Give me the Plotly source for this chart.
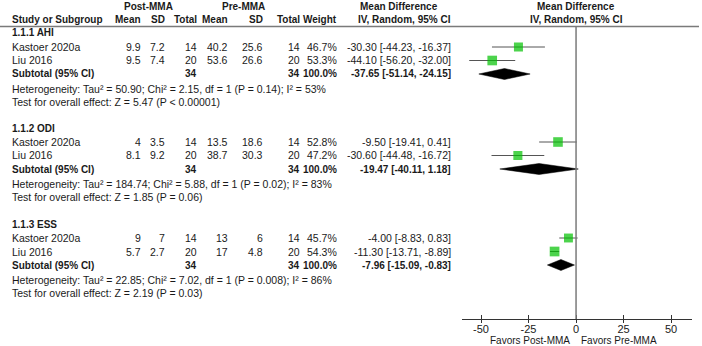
import plotly.graph_objects as go

W, H = 702, 346

# ---------------- data ----------------
subgroups = ["1.1.1 AHI", "1.1.2 ODI", "1.1.3 ESS"]
studies = ["Kastoer 2020a", "Liu 2016"]
post_mean = [[9.9, 9.5], [4, 8.1], [9, 5.7]]
post_sd = [[7.2, 7.4], [3.5, 9.2], [7, 2.7]]
post_n = [[14, 20], [14, 20], [14, 20]]
pre_mean = [[40.2, 53.6], [13.5, 38.7], [13, 17]]
pre_sd = [[25.6, 26.6], [18.6, 30.3], [6, 4.8]]
pre_n = [[14, 20], [14, 20], [14, 20]]
weights = [[46.7, 53.3], [52.8, 47.2], [45.7, 54.3]]
md = [[-30.30, -44.10], [-9.50, -30.60], [-4.00, -11.30]]
md_lo = [[-44.23, -56.20], [-19.41, -44.48], [-8.83, -13.71]]
md_hi = [[-16.37, -32.00], [0.41, -16.72], [0.83, -8.89]]
sub_md = [-37.65, -19.47, -7.96]
sub_lo = [-51.14, -40.11, -15.09]
sub_hi = [-24.15, 1.18, -0.83]
sub_post_n = [34, 34, 34]
sub_pre_n = [34, 34, 34]
heterogeneity = [
    "Heterogeneity: Tau² = 50.90; Chi² = 2.15, df = 1 (P = 0.14); I² = 53%",
    "Heterogeneity: Tau² = 184.74; Chi² = 5.88, df = 1 (P = 0.02); I² = 83%",
    "Heterogeneity: Tau² = 22.85; Chi² = 7.02, df = 1 (P = 0.008); I² = 86%",
]
overall = [
    "Test for overall effect: Z = 5.47 (P < 0.00001)",
    "Test for overall effect: Z = 1.85 (P = 0.06)",
    "Test for overall effect: Z = 2.19 (P = 0.03)",
]
tick_vals = [-50, -25, 0, 25, 50]
tick_text = ["-50", "-25", "0", "25", "50"]

# ---------------- layout helpers ----------------
FONT = "Liberation Sans, Arial, sans-serif"
FS = 10.5
FSB = 10
TXT = "#1a1a1a"
AXIS_BOTTOM = 319
section_top = [33, 128, 224]
row_off = [14, 27.5]
sub_off = 41
het_off = 56
test_off = 69


def px(x):
    return x / W


def py(y):
    return 1 - y / H


ann = []


def text(x, y, s, anchor="left", bold=False, size=None):
    if size is None:
        size = FSB if bold else FS
    if bold:
        s = "<b>" + s + "</b>"
    ann.append(dict(x=px(x), y=py(y), xref="paper", yref="paper", text=s,
                    showarrow=False, xanchor=anchor, yanchor="middle",
                    font=dict(family=FONT, size=size, color=TXT)))


def fmt(v):
    return f"{v:g}"


# column right edges
col_x = [143, 167, 199, 230, 265, 302, 339]
ci_x = 453

# header
text(148, 6, "Post-MMA", "center", True)
text(243.5, 6, "Pre-MMA", "center", True)
text(398.5, 6, "Mean Difference", "center", True)
text(576, 6, "Mean Difference", "center", True)
text(10, 20, "Study or Subgroup", "left", True)
for x, s in zip(col_x, ["Mean", "SD", "Total", "Mean", "SD", "Total", "Weight"]):
    text(x, 20, s, "right", True)
text(453, 20, "IV, Random, 95% CI", "right", True)
text(576, 20, "IV, Random, 95% CI", "center", True)

fig = go.Figure()

ci_x_pts, ci_y_pts = [], []
sq_x, sq_y, sq_s = [], [], []

for g, name in enumerate(subgroups):
    top = section_top[g]
    text(10, top, name, "left", True)
    for i, st in enumerate(studies):
        y = top + row_off[i]
        text(10, y, st)
        vals = [fmt(post_mean[g][i]), fmt(post_sd[g][i]), str(post_n[g][i]),
                fmt(pre_mean[g][i]), fmt(pre_sd[g][i]), str(pre_n[g][i]),
                f"{weights[g][i]:.1f}%"]
        for x, s in zip(col_x, vals):
            text(x, y, s, "right")
        text(ci_x, y, f"{md[g][i]:.2f} [{md_lo[g][i]:.2f}, {md_hi[g][i]:.2f}]", "right")
        ci_x_pts += [md_lo[g][i], md_hi[g][i], None]
        ci_y_pts += [y, y, None]
        sq_x.append(md[g][i])
        sq_y.append(y)
        sq_s.append(1.32 * weights[g][i] ** 0.5)
    ys = top + sub_off
    text(10, ys, "Subtotal (95% CI)", "left", True)
    text(col_x[2], ys, str(sub_post_n[g]), "right", True)
    text(col_x[5], ys, str(sub_pre_n[g]), "right", True)
    text(col_x[6], ys, "100.0%", "right", True)
    text(ci_x, ys, f"{sub_md[g]:.2f} [{sub_lo[g]:.2f}, {sub_hi[g]:.2f}]", "right", True)
    text(10, top + het_off, heterogeneity[g])
    text(10, top + test_off, overall[g])
    # diamond
    hh = 5.5
    fig.add_trace(go.Scatter(
        x=[sub_lo[g], sub_md[g], sub_hi[g], sub_md[g], sub_lo[g]],
        y=[ys, ys - hh, ys, ys + hh, ys],
        mode="lines", fill="toself", fillcolor="black",
        line=dict(color="black", width=0.5), hoverinfo="skip", showlegend=False))

fig.add_trace(go.Scatter(x=ci_x_pts, y=ci_y_pts, mode="lines",
                         line=dict(color="#555555", width=1),
                         hoverinfo="skip", showlegend=False))
fig.add_trace(go.Scatter(x=sq_x, y=sq_y, mode="markers",
                         marker=dict(symbol="square", size=sq_s, color="#00C000",
                                     line=dict(width=0)),
                         showlegend=False))

# favours labels
text(572, 340, "Favors Post-MMA", "right", size=10)
text(579, 340, "Favors Pre-MMA", "left", size=10)

shapes = [
    dict(type="line", xref="paper", yref="paper", x0=0, x1=px(699),
         y0=py(26.5), y1=py(26.5), line=dict(color="#7a7a7a", width=1.5)),
    dict(type="line", xref="x", yref="y", x0=0, x1=0, y0=26.5, y1=AXIS_BOTTOM,
         line=dict(color="#7a7a7a", width=1.5)),
]

x_dom = [px(462), px(692)]
x_rng = [-60, 61]
fig.update_layout(
    width=W, height=H, margin=dict(l=0, r=0, t=0, b=0),
    paper_bgcolor="white", plot_bgcolor="white",
    annotations=ann, shapes=shapes, showlegend=False,
    xaxis=dict(domain=x_dom, range=x_rng, showline=True, linecolor="#333333",
               linewidth=1, tickvals=tick_vals, ticktext=tick_text,
               ticks="inside", ticklen=4, tickcolor="#333333", showgrid=False,
               zeroline=False, tickfont=dict(family=FONT, size=11, color=TXT)),
    xaxis2=dict(domain=x_dom, range=x_rng, overlaying="x", anchor="y",
                side="bottom", tickvals=tick_vals, ticks="outside", ticklen=3,
                tickcolor="#333333", showticklabels=False, showgrid=False,
                zeroline=False, showline=False),
    yaxis=dict(domain=[py(AXIS_BOTTOM), 1], range=[AXIS_BOTTOM, 0],
               visible=False, showgrid=False, zeroline=False),
)
# invisible trace to activate xaxis2
fig.add_trace(go.Scatter(x=[0], y=[0], xaxis="x2", mode="markers",
                         marker=dict(opacity=0), hoverinfo="skip", showlegend=False))

fig.write_html("out.html")
